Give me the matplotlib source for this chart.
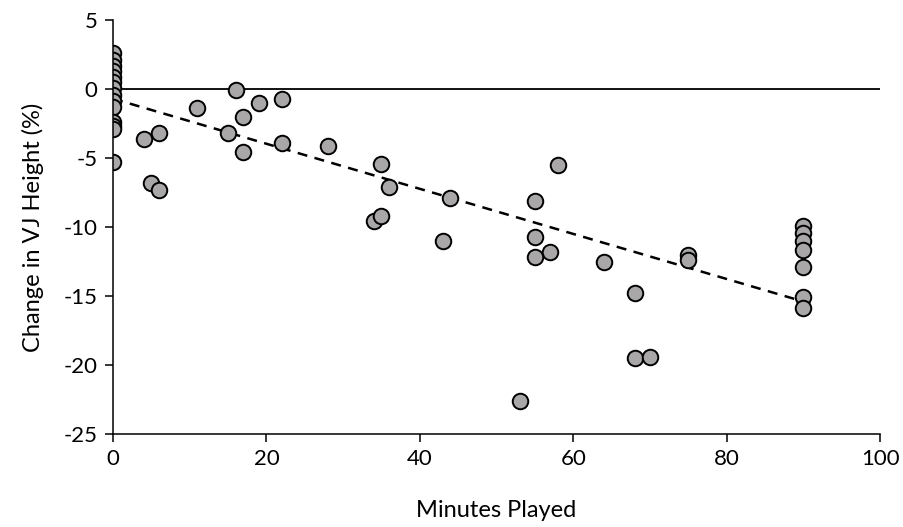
import matplotlib
matplotlib.use("Agg")
import matplotlib.pyplot as plt
import numpy as np

plt.rcParams['font.family'] = ['Lato', 'DejaVu Sans']
plt.rcParams['axes.unicode_minus'] = False

# --- data ---
minutes = [0, 0, 0, 0, 0, 0, 0, 0, 0, 0, 0, 0, 0, 0,
           4, 5, 6, 6, 11, 15, 16, 17, 17, 19, 22, 22, 28,
           34, 35, 35, 36, 43, 44, 53, 55, 55, 55, 57, 58,
           64, 68, 68, 70, 75, 75,
           90, 90, 90, 90, 90, 90, 90]
vj_change = [2.6, 2.1, 1.7, 1.3, 0.9, 0.5, 0.1, -0.4, -0.9, -1.3, -2.4, -2.7, -2.9, -5.3,
             -3.6, -6.8, -3.2, -7.3, -1.4, -3.2, -0.1, -2.0, -4.6, -1.0, -0.7, -3.9, -4.1,
             -9.6, -5.4, -9.2, -7.1, -11.0, -7.9, -22.6, -8.1, -10.7, -12.2, -11.8, -5.5,
             -12.5, -14.8, -19.5, -19.4, -12.0, -12.4,
             -9.9, -10.4, -11.0, -11.7, -12.9, -15.1, -15.9]
# linear trendline end points (as drawn in the reference)
trend_x = [0, 90]
trend_y = [-0.7, -15.4]
xticks = [0, 20, 40, 60, 80, 100]
yticks = [5, 0, -5, -10, -15, -20, -25]

fig = plt.figure(figsize=(9.04, 5.27), dpi=100)
ax = fig.add_axes([0.125, 0.1765, 0.8485, 0.7855])

ax.axhline(0, color='black', lw=1.3, zorder=1)
ax.plot(trend_x, trend_y, color='black', lw=1.8, ls=(0, (4, 3)), zorder=2)
ax.scatter(minutes, vj_change, s=125, facecolor='#a9a7a8', edgecolor='black',
           linewidth=1.4, zorder=3)

ax.set_xlim(0, 100)
ax.set_ylim(-25, 5)
ax.set_xticks(xticks)
ax.set_yticks(yticks)
ax.tick_params(direction='out', length=6, width=1.1, labelsize=16, pad=5)

for s in ['top', 'right']:
    ax.spines[s].set_visible(False)
for s in ['left', 'bottom']:
    ax.spines[s].set_linewidth(1.1)
ax.spines['left'].set_zorder(4)

ax.set_xlabel("Minutes Played", fontsize=17, labelpad=22)
ax.set_ylabel("Change in VJ Height (%)", fontsize=17, labelpad=14)

fig.savefig("out.png", dpi=100)
